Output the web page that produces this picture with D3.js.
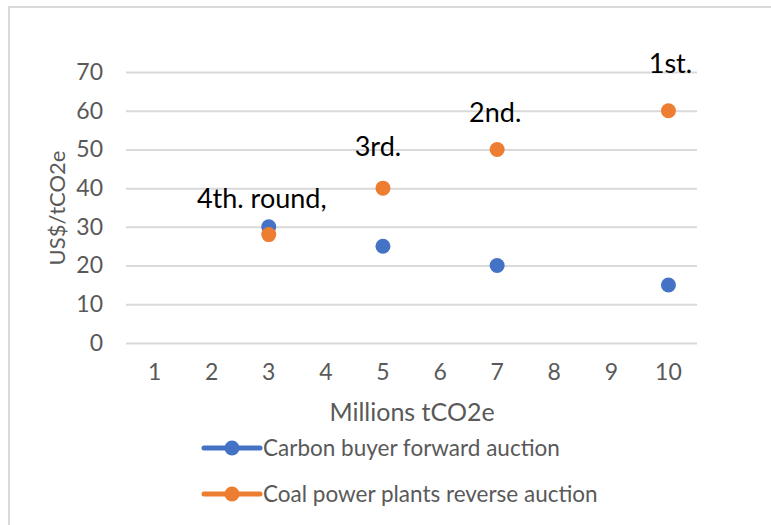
<!DOCTYPE html>
<html>
<head>
<meta charset="utf-8">
<script src="https://cdn.jsdelivr.net/npm/d3@7"></script>
<style>
  body { margin: 0; background: #fff; }
  text { font-family: Lato, "Open Sans", sans-serif; }
</style>
</head>
<body>
<div id="chart"></div>
<script>
// categories on the x axis (Millions tCO2e)
var categories = ["1", "2", "3", "4", "5", "6", "7", "8", "9", "10"];
var yTicks = [0, 10, 20, 30, 40, 50, 60, 70];

var roundX = ["3", "5", "7", "10"];
var buyerPrice = [30, 25, 20, 15];   // Carbon buyer forward auction
var coalPrice = [28, 40, 50, 60];    // Coal power plants reverse auction
var roundLabels = ["4th. round,", "3rd.", "2nd.", "1st."];

var seriesNames = ["Carbon buyer forward auction", "Coal power plants reverse auction"];
var blue = "#4472c4", orange = "#ed7d31";

var svg = d3.select("#chart").append("svg")
    .attr("width", 771)
    .attr("height", 525);

// chart area border
svg.append("rect")
    .attr("x", 9).attr("y", 7)
    .attr("width", 800).attr("height", 560)
    .attr("fill", "#fff")
    .attr("stroke", "#d9d9d9")
    .attr("stroke-width", 2);

var x = d3.scaleBand()
    .domain(categories)
    .range([126, 697])
    .padding(0);

var y = d3.scaleLinear()
    .domain([0, 70])
    .range([343, 72]);

function cx(c) { return x(c) + x.bandwidth() / 2; }

// y axis + gridlines
var yAxis = svg.append("g")
    .attr("transform", "translate(126,0)")
    .call(d3.axisLeft(y).tickValues(yTicks).tickSize(-571).tickPadding(23));
yAxis.select(".domain").remove();
yAxis.selectAll(".tick line").attr("stroke", "#d9d9d9").attr("stroke-width", 2);
yAxis.selectAll(".tick text")
    .attr("fill", "#595959")
    .style("font-size", "23px");

// x axis labels
var xAxis = svg.append("g")
    .attr("transform", "translate(0,343)")
    .call(d3.axisBottom(x).tickSize(0).tickPadding(21));
xAxis.select(".domain").remove();
xAxis.selectAll(".tick text")
    .attr("fill", "#595959")
    .style("font-size", "23px");

// axis titles
svg.append("text")
    .attr("transform", "translate(65,208) rotate(-90)")
    .attr("text-anchor", "middle")
    .attr("fill", "#595959")
    .style("font-size", "22px")
    .text("US$/tCO2e");

svg.append("text")
    .attr("x", 412).attr("y", 421)
    .attr("text-anchor", "middle")
    .attr("fill", "#595959")
    .style("font-size", "25px")
    .text("Millions tCO2e");

// points
var r = 7.5;
svg.append("g").selectAll("circle")
    .data(roundX)
    .join("circle")
    .attr("cx", function(d) { return cx(d); })
    .attr("cy", function(d, i) { return y(buyerPrice[i]); })
    .attr("r", r)
    .attr("fill", blue);

svg.append("g").selectAll("circle")
    .data(roundX)
    .join("circle")
    .attr("cx", function(d) { return cx(d); })
    .attr("cy", function(d, i) { return y(coalPrice[i]); })
    .attr("r", r)
    .attr("fill", orange);

// round labels, nudged like the hand-placed ones in the original
var labelNudge = [[-7, -27], [-5, -32], [-2, -27], [2, -38]];
svg.append("g").selectAll("text")
    .data(roundLabels)
    .join("text")
    .attr("x", function(d, i) { return cx(roundX[i]) + labelNudge[i][0]; })
    .attr("y", function(d, i) { return y(coalPrice[i]) + labelNudge[i][1]; })
    .attr("text-anchor", "middle")
    .attr("fill", "#000")
    .style("font-size", "27px")
    .text(function(d) { return d; });

// legend
var legend = svg.append("g").selectAll("g")
    .data(seriesNames)
    .join("g")
    .attr("transform", function(d, i) { return "translate(204," + (448 + i * 46) + ")"; });

legend.append("line")
    .attr("x1", 0).attr("x2", 56)
    .attr("stroke", function(d, i) { return i ? orange : blue; })
    .attr("stroke-width", 5)
    .attr("stroke-linecap", "round");
legend.append("circle")
    .attr("cx", 28).attr("r", r)
    .attr("fill", function(d, i) { return i ? orange : blue; });
legend.append("text")
    .attr("x", 59).attr("y", 8)
    .attr("fill", "#595959")
    .style("font-size", "22.5px")
    .text(function(d) { return d; });
</script>
</body>
</html>
